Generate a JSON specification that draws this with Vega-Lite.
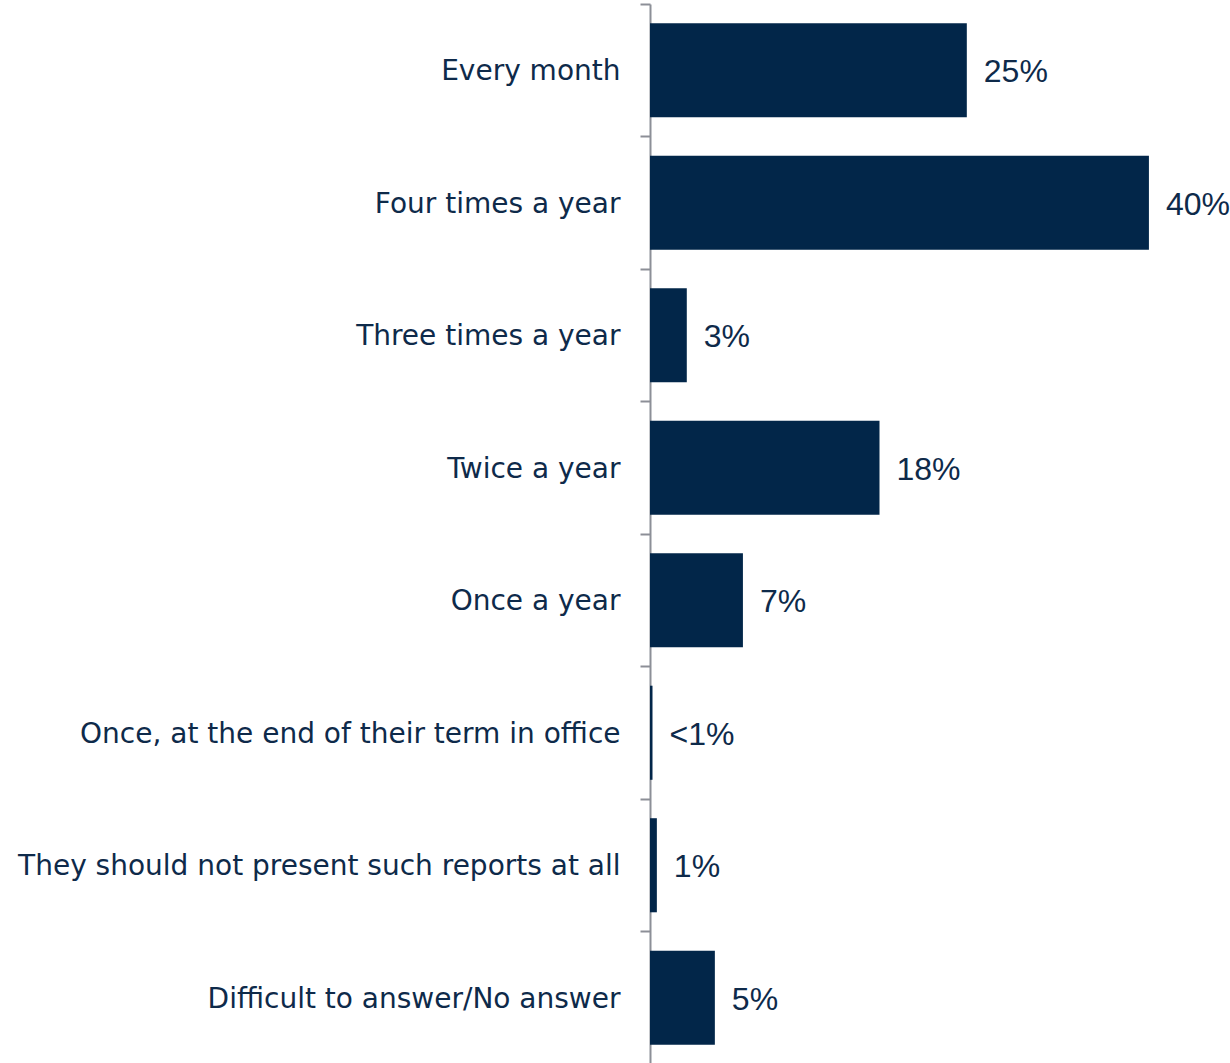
{
  "$schema": "https://vega.github.io/schema/vega-lite/v6.json",
  "autosize": "none",
  "width": 580,
  "height": 1060,
  "padding": {"left": 650, "top": 4, "right": 0, "bottom": 0},
  "background": "white",
  "config": {"view": {"stroke": null}},
  "data": {
    "values": [
      {"answer": "Every month", "value": 25.4, "label": "25%"},
      {"answer": "Four times a year", "value": 40, "label": "40%"},
      {"answer": "Three times a year", "value": 2.95, "label": "3%"},
      {"answer": "Twice a year", "value": 18.4, "label": "18%"},
      {"answer": "Once a year", "value": 7.45, "label": "7%"},
      {"answer": "Once, at the end of their term in office", "value": 0.2, "label": "<1%"},
      {"answer": "They should not present such reports at all", "value": 0.55, "label": "1%"},
      {"answer": "Difficult to answer/No answer", "value": 5.2, "label": "5%"}
    ]
  },
  "encoding": {
    "y": {
      "field": "answer",
      "type": "nominal",
      "sort": null,
      "scale": {"paddingInner": 0, "paddingOuter": 0},
      "axis": {
        "title": null,
        "bandPosition": 0,
        "labelOffset": 2,
        "domainColor": "#8c8f97",
        "domainWidth": 2,
        "tickColor": "#8c8f97",
        "tickWidth": 2,
        "tickSize": 10,
        "labelPadding": 20,
        "labelFont": "DejaVu Sans",
        "labelFontSize": 28,
        "labelColor": "#0e2a4a",
        "labelLimit": 700
      }
    },
    "x": {
      "field": "value",
      "type": "quantitative",
      "scale": {"domain": [0, 46.5], "nice": false},
      "axis": null
    }
  },
  "layer": [
    {
      "mark": {"type": "bar", "color": "#022649", "height": {"band": 0.71}}
    },
    {
      "mark": {
        "type": "text",
        "align": "left",
        "baseline": "middle",
        "dx": 17,
        "dy": 2,
        "font": "Liberation Sans",
        "fontSize": 32,
        "color": "#0e2a4a"
      },
      "encoding": {"text": {"field": "label"}}
    }
  ]
}
